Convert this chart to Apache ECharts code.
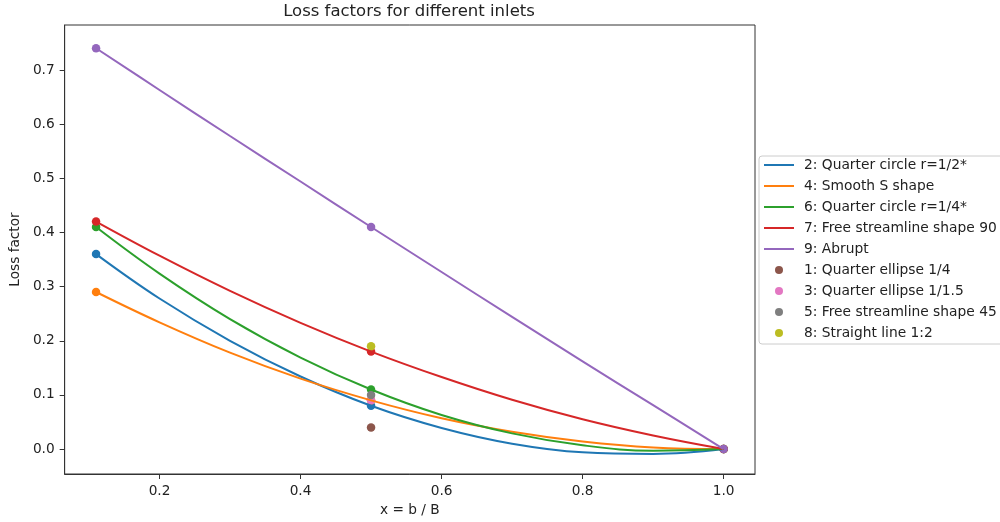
<!DOCTYPE html>
<html>
<head>
<meta charset="utf-8">
<script src="https://cdn.jsdelivr.net/npm/echarts@6/dist/echarts.min.js"></script>
<style>
html,body{margin:0;padding:0;background:#fff;}
#chart{width:1000px;height:522px;}
</style>
</head>
<body>
<div id="chart"></div>
<script>
// ---- data ----
const titleText = 'Loss factors for different inlets';
const xName = 'x = b / B';
const yName = 'Loss factor';
const xTicks = [0.2, 0.4, 0.6, 0.8, 1.0];
const yTicks = [0.0, 0.1, 0.2, 0.3, 0.4, 0.5, 0.6, 0.7];

// curve samples
const xCurve = [0.11, 0.2, 0.3, 0.4, 0.5, 0.6, 0.7, 0.8, 0.9, 1.0];
const curve2 = [0.36, 0.278, 0.200, 0.134, 0.08, 0.039, 0.010, -0.006, -0.009, 0];
const curve4 = [0.29, 0.234, 0.178, 0.130, 0.09, 0.057, 0.032, 0.014, 0.003, 0];
const curve6 = [0.41, 0.324, 0.240, 0.169, 0.11, 0.063, 0.029, 0.007, -0.003, 0];
const curve7 = [0.42, 0.357, 0.292, 0.233, 0.18, 0.133, 0.091, 0.055, 0.025, 0];
const curve9 = [0.74, 0.663, 0.578, 0.494, 0.41, 0.327, 0.244, 0.162, 0.081, 0];

// measured points of the curve series
const xMeas = [0.11, 0.5, 1.0];
const meas2 = [0.36, 0.08, 0];
const meas4 = [0.29, 0.09, 0];
const meas6 = [0.41, 0.11, 0];
const meas7 = [0.42, 0.18, 0];
const meas9 = [0.74, 0.41, 0];

// single-point series
const xSingle = [0.5];
const pts1 = [0.04];
const pts3 = [0.09];
const pts5 = [0.10];
const pts8 = [0.19];

const lineNames = ['2: Quarter circle r=1/2*', '4: Smooth S shape', '6: Quarter circle r=1/4*', '7: Free streamline shape 90', '9: Abrupt'];
const pointNames = ['1: Quarter ellipse 1/4', '3: Quarter ellipse 1/1.5', '5: Free streamline shape 45', '8: Straight line 1:2'];
const lineColors = ['#1f77b4', '#ff7f0e', '#2ca02c', '#d62728', '#9467bd'];
const pointColors = ['#8c564b', '#e377c2', '#7f7f7f', '#bcbd22'];

// ---- build options ----
const curves = [curve2, curve4, curve6, curve7, curve9];
const meas = [meas2, meas4, meas6, meas7, meas9];
const singles = [pts1, pts3, pts5, pts8];
const zip = (xs, ys) => xs.map((x, i) => [x, ys[i]]);

const FONT = 'DejaVu Sans';
const TXT = '#222';
const series = [];
curves.forEach((c, i) => {
  series.push({
    name: lineNames[i], type: 'line', data: zip(xCurve, c), smooth: 0.4,
    showSymbol: false, symbol: 'none', z: 3,
    lineStyle: {color: lineColors[i], width: 2}, itemStyle: {color: lineColors[i]},
    emphasis: {disabled: true}, animation: false
  });
});
meas.forEach((m, i) => {
  series.push({
    name: lineNames[i], type: 'scatter', data: zip(xMeas, m), symbolSize: 8.5, z: 2,
    itemStyle: {color: lineColors[i], opacity: 1}, emphasis: {disabled: true}, animation: false
  });
});
singles.forEach((p, i) => {
  series.push({
    name: pointNames[i], type: 'scatter', data: zip(xSingle, p), symbolSize: 8.5, z: 2,
    itemStyle: {color: pointColors[i], opacity: 1}, emphasis: {disabled: true}, animation: false
  });
});

const lineIcon = 'path://M0,0M30,14M0,6H30V8H0Z';
const dotIcon = 'path://M0,0M30,14M11,7A4,4,0,1,1,19,7A4,4,0,1,1,11,7Z';
const legendData = lineNames.map((n, i) => ({name: n, icon: lineIcon, itemStyle: {color: lineColors[i]}}))
  .concat(pointNames.map((n, i) => ({name: n, icon: dotIcon, itemStyle: {color: pointColors[i]}})));

const option = {
  backgroundColor: '#fff',
  animation: false,
  title: {
    text: titleText, left: 409, top: 3, padding: 0, textAlign: 'center',
    textStyle: {fontFamily: FONT, fontSize: 16.5, fontWeight: 'normal', color: TXT}
  },
  grid: {left: 63, right: 245, top: 25, bottom: 47, show: true, borderColor: '#333', borderWidth: 1, backgroundColor: 'transparent'},
  legend: {
    orient: 'vertical', left: 759, top: 156,
    data: legendData, itemWidth: 30, itemHeight: 14, itemGap: 7,
    padding: [2, 10, 4, 5],
    borderColor: '#cccccc', borderWidth: 1, borderRadius: 3, backgroundColor: '#fff',
    textStyle: {fontFamily: FONT, fontSize: 13.8, color: TXT, padding: [0, 0, 0, 5]},
    selectedMode: false
  },
  xAxis: {
    type: 'value', min: 0.0655, max: 1.0445,
    name: xName, nameLocation: 'middle', nameGap: 29,
    nameTextStyle: {fontFamily: FONT, fontSize: 13.7, color: TXT},
    axisLine: {show: true, onZero: false, lineStyle: {color: '#333', width: 1}},
    axisTick: {show: true, length: 5, customValues: xTicks, lineStyle: {color: '#333'}},
    axisLabel: {customValues: xTicks, margin: 10, fontFamily: FONT, fontSize: 13.7, color: TXT,
      formatter: v => v.toFixed(1)},
    splitLine: {show: false}
  },
  yAxis: {
    type: 'value', min: -0.046, max: 0.783,
    name: yName, nameLocation: 'middle', nameGap: 38, nameRotate: 90,
    nameTextStyle: {fontFamily: FONT, fontSize: 13.7, color: TXT},
    axisLine: {show: true, onZero: false, lineStyle: {color: '#333', width: 1}},
    axisTick: {show: true, length: 5, customValues: yTicks, lineStyle: {color: '#333'}},
    axisLabel: {customValues: yTicks, margin: 10, fontFamily: FONT, fontSize: 13.7, color: TXT,
      formatter: v => v.toFixed(1)},
    splitLine: {show: false}
  },
  series: series
};

const chart = echarts.init(document.getElementById('chart'), null, {renderer: 'canvas'});
chart.setOption(option);
</script>
</body>
</html>
